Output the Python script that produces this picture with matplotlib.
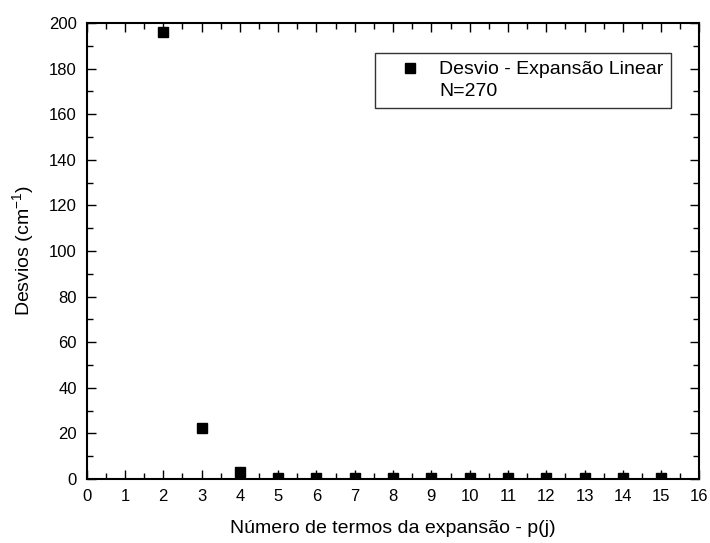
import matplotlib
matplotlib.use('Agg')
import matplotlib.pyplot as plt
from matplotlib.lines import Line2D
from matplotlib.ticker import MultipleLocator

# Deviation versus number of terms in the linear expansion
n_terms = [2, 3, 4, 5, 6, 7, 8, 9, 10, 11, 12, 13, 14, 15]
desvios = [196.0, 22.3, 3.2, 0.6, 0.5, 0.5, 0.4, 0.4, 0.4, 0.4, 0.4, 0.4, 0.4, 0.4]
series_label = 'Desvio - Expansão Linear'
note_label = 'N=270'

plt.rcParams['font.family'] = ['Liberation Sans', 'DejaVu Sans']

fig = plt.figure(figsize=(7.10, 5.43), dpi=100)
ax = fig.add_axes([0.1221, 0.1179, 0.8631, 0.8397])

ax.plot(n_terms, desvios, linestyle='none', marker='s', markersize=6.5,
        color='black', label=series_label)

ax.set_xlim(0, 16)
ax.set_ylim(0, 200)
ax.xaxis.set_major_locator(MultipleLocator(1))
ax.xaxis.set_minor_locator(MultipleLocator(0.5))
ax.yaxis.set_major_locator(MultipleLocator(20))
ax.yaxis.set_minor_locator(MultipleLocator(10))
ax.tick_params(which='both', direction='in', top=True, right=True,
               labeltop=False, labelright=False, width=1.0, labelsize=12)
ax.tick_params(which='major', length=6.5, pad=7)
ax.tick_params(which='minor', length=4)
for sp in ax.spines.values():
    sp.set_linewidth(1.5)

ax.set_xlabel('Número de termos da expansão - p(j)', fontsize=14, labelpad=12)
ax.set_ylabel('Desvios (cm$^{\\mathregular{-1}}$)', fontsize=14, labelpad=9)

# second legend row carries only the sample size, no marker
handles = [Line2D([], [], linestyle='none', marker='s', markersize=6.5, color='black'),
           Line2D([], [], linestyle='none')]
leg = ax.legend(handles, [series_label, note_label], loc='upper left',
                bbox_to_anchor=(0.4705, 0.9342), fontsize=14, frameon=True,
                fancybox=False, edgecolor='black', handletextpad=0.1,
                handlelength=2.8, borderpad=0.4, labelspacing=0.22,
                borderaxespad=0)
leg.get_frame().set_linewidth(1.0)

fig.savefig('out.png', dpi=100)
